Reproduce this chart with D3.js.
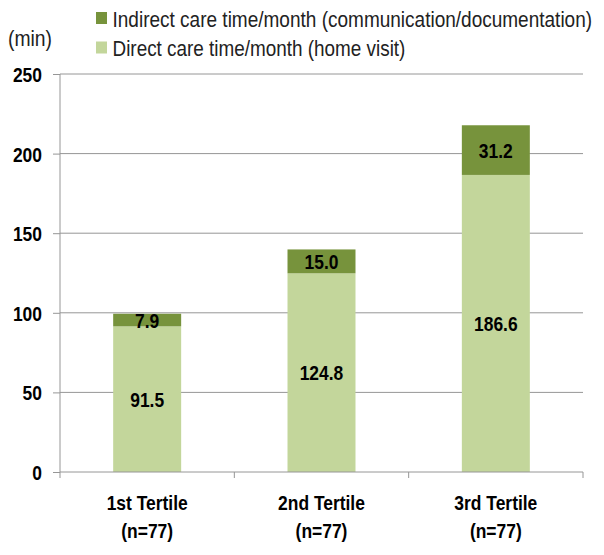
<!DOCTYPE html>
<html><head><meta charset="utf-8">
<script src="https://cdn.jsdelivr.net/npm/d3@7"></script>
<style>
body{margin:0;background:#fff;}
text{font-family:"Liberation Sans",Arial,sans-serif;}
</style></head>
<body><svg id="c" width="604" height="555"></svg>
<script>
const categories = ["1st Tertile|(n=77)", "2nd Tertile|(n=77)", "3rd Tertile|(n=77)"];
const direct = [91.5, 124.8, 186.6];
const indirect = [7.9, 15.0, 31.2];
const seriesNames = ["Indirect care time/month (communication/documentation)", "Direct care time/month (home visit)"];
const yTicks = [0, 50, 100, 150, 200, 250];
const colors = {direct:"#C3D69B", indirect:"#77933C"};

const svg = d3.select("#c");
const mL = 60, mR = 583, mT = 74, mB = 472;
const SQ = 0.83; // horizontal condensing to mimic a narrow font
function squeeze(sel, f){
  sel.each(function(){
    const len = this.getComputedTextLength();
    d3.select(this).attr("textLength", len*f).attr("lengthAdjust", "spacingAndGlyphs");
  });
}
const x = d3.scaleBand().domain(categories).range([mL, mR]).paddingInner(0.61).paddingOuter(0.305);
const y = d3.scaleLinear().domain([0, 250]).range([mB, mT]);

// gridlines
svg.append("g").selectAll("line").data(yTicks.filter(d=>d>0)).join("line")
  .attr("x1", mL).attr("x2", mR).attr("y1", d=>y(d)).attr("y2", d=>y(d))
  .attr("stroke", "#969696").attr("stroke-width", 1);

// y axis
const ya = svg.append("g").attr("transform", `translate(${mL},0)`)
  .call(d3.axisLeft(y).tickValues(yTicks).tickSize(7).tickPadding(11));
ya.select(".domain").attr("stroke", "#969696").attr("d", `M0,${mT}V${mB+6}`);
ya.selectAll(".tick line").attr("stroke", "#969696");
ya.selectAll(".tick text").attr("font-size", 21).attr("font-weight", "bold").attr("fill", "#000")
  .attr("dy", "0.36em")
  .style("font-family", '"Liberation Sans",Arial,sans-serif');
squeeze(ya.selectAll(".tick text"), SQ);

// bars
const data = categories.map((c,i)=>({c, d:direct[i], n:indirect[i]}));
const g = svg.append("g");
g.selectAll("rect.d").data(data).join("rect").attr("class","d")
  .attr("x", d=>x(d.c)).attr("width", x.bandwidth())
  .attr("y", d=>y(d.d)).attr("height", d=>y(0)-y(d.d)).attr("fill", colors.direct);
g.selectAll("rect.n").data(data).join("rect").attr("class","n")
  .attr("x", d=>x(d.c)).attr("width", x.bandwidth())
  .attr("y", d=>y(d.d+d.n)).attr("height", d=>y(d.d)-y(d.d+d.n)).attr("fill", colors.indirect);

// x axis
svg.append("line").attr("x1", mL).attr("x2", mR).attr("y1", mB).attr("y2", mB).attr("stroke", "#969696");
svg.append("g").selectAll("line").data(categories).join("line")
  .attr("x1", c=>x(c)-x.step()*0.305+x.step()).attr("x2", c=>x(c)-x.step()*0.305+x.step())
  .attr("y1", mB).attr("y2", mB+6).attr("stroke", "#969696");

// value labels
const lab = svg.append("g").attr("font-size", 21).attr("font-weight", "bold").attr("text-anchor", "middle").attr("fill", "#000");
lab.selectAll("text.d").data(data).join("text").attr("class","d")
  .attr("x", d=>x(d.c)+x.bandwidth()/2).attr("y", d=>(y(d.d)+y(0))/2).attr("dy", "0.36em").text(d=>d.d.toFixed(1));
lab.selectAll("text.n").data(data).join("text").attr("class","n")
  .attr("x", d=>x(d.c)+x.bandwidth()/2).attr("y", d=>(y(d.d)+y(d.d+d.n))/2).attr("dy", "0.36em").text(d=>d.n.toFixed(1));
squeeze(lab.selectAll("text"), SQ);

// category labels
const cl = svg.append("g").attr("font-size", 21).attr("font-weight", "bold").attr("text-anchor", "middle");
data.forEach(d=>{
  const parts = d.c.split("|");
  const cx = x(d.c)+x.bandwidth()/2;
  cl.append("text").attr("x", cx).attr("y", 510).text(parts[0]);
  cl.append("text").attr("x", cx).attr("y", 538).text(parts[1]);
});
squeeze(cl.selectAll("text"), SQ);

// unit label
const unit = svg.append("text").attr("x", 8).attr("y", 46).attr("font-size", 22).attr("fill", "#222").text("(min)");
unit.attr("textLength", 44).attr("lengthAdjust", "spacingAndGlyphs");

// legend (text condensed with a horizontal scale transform)
const leg = svg.append("g");
[{n:seriesNames[0], c:colors.indirect, cy:18, w:480},{n:seriesNames[1], c:colors.direct, cy:47.5, w:293}].forEach(l=>{
  leg.append("rect").attr("x", 96).attr("y", l.cy-6).attr("width", 11).attr("height", 12).attr("fill", l.c);
  const t = leg.append("text").attr("x", 0).attr("y", 0).attr("font-size", 22).attr("fill", "#222").text(l.n);
  const len = t.node().getComputedTextLength();
  t.attr("transform", `translate(112.5,${l.cy+8.5}) scale(${l.w/len},1)`);
});
</script></body></html>
